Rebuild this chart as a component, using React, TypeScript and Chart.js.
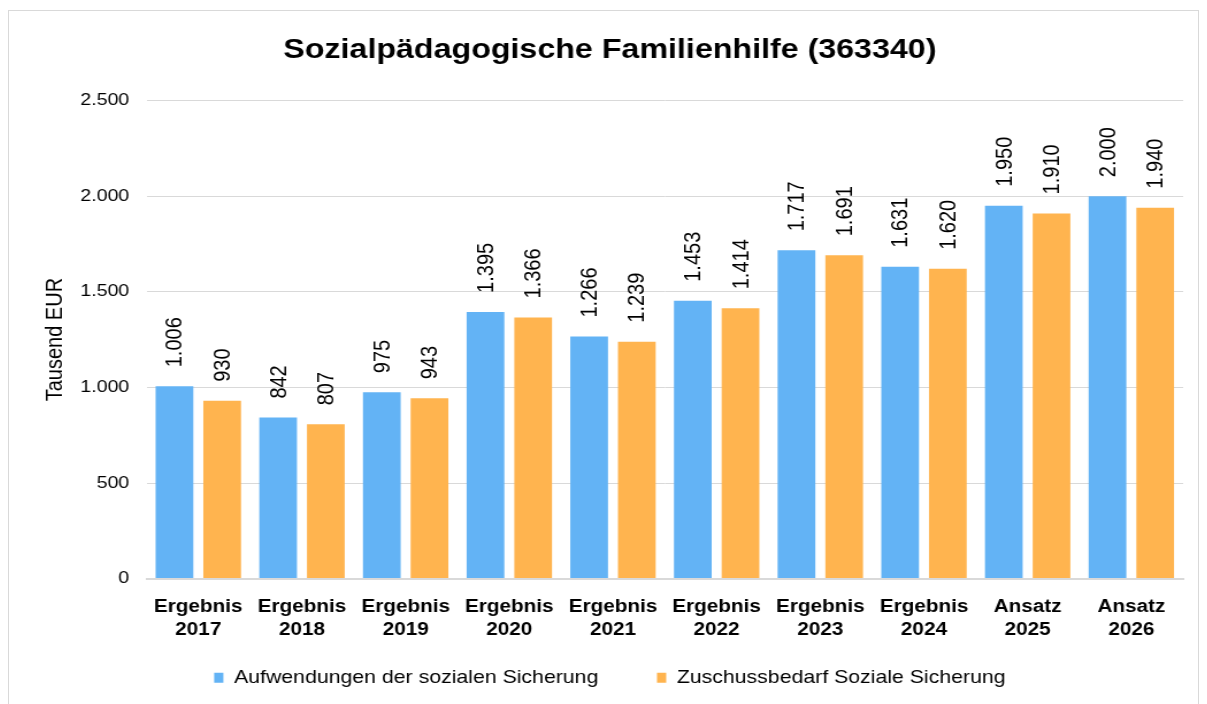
import React, { useEffect, useRef } from "react";
import { Chart, registerables } from "chart.js";

Chart.register(...registerables);

const categories: string[][] = [
  ["Ergebnis", "2017"],
  ["Ergebnis", "2018"],
  ["Ergebnis", "2019"],
  ["Ergebnis", "2020"],
  ["Ergebnis", "2021"],
  ["Ergebnis", "2022"],
  ["Ergebnis", "2023"],
  ["Ergebnis", "2024"],
  ["Ansatz", "2025"],
  ["Ansatz", "2026"],
];
const aufwendungen = [1006, 842, 975, 1395, 1266, 1453, 1717, 1631, 1950, 2000];
const zuschussbedarf = [930, 807, 943, 1366, 1239, 1414, 1691, 1620, 1910, 1940];
const seriesNames = ["Aufwendungen der sozialen Sicherung", "Zuschussbedarf Soziale Sicherung"];
const title = "Sozialpädagogische Familienhilfe (363340)";
const yTitle = "Tausend EUR";

const FONT = "'Liberation Sans', Arial, sans-serif";
const STRETCH = 1.15;
const LEGEND_SHRINK = 41;
const fmt = (v: number) => v.toLocaleString("de-DE");

const labelPlugin = {
  id: "rotLabels",
  beforeLayout(chart: any) {
    const lg = chart.legend;
    if (lg && !lg.__patched) {
      const origFit = lg.fit.bind(lg);
      lg.fit = function () {
        origFit();
        this.height = Math.max(0, this.height - LEGEND_SHRINK);
      };
      const origDraw = lg.draw.bind(lg);
      lg.draw = function (...args: any[]) {
        this.top -= LEGEND_SHRINK;
        origDraw(...args);
        this.top += LEGEND_SHRINK;
      };
      lg.__patched = true;
    }
  },
  afterDatasetsDraw(chart: any) {
    const ctx = chart.ctx;
    ctx.save();
    ctx.font = `20px ${FONT}`;
    ctx.fillStyle = "#000";
    ctx.textAlign = "left";
    ctx.textBaseline = "middle";
    chart.data.datasets.forEach((ds: any, i: number) => {
      const meta = chart.getDatasetMeta(i);
      meta.data.forEach((el: any, j: number) => {
        ctx.save();
        ctx.translate(el.x, el.y - 19);
        ctx.rotate(-Math.PI / 2);
        ctx.fillText(fmt(ds.data[j]), 0, 1);
        ctx.restore();
      });
    });
    ctx.restore();
  },
};

export default function App() {
  const ref = useRef<HTMLCanvasElement>(null);
  useEffect(() => {
    if (!ref.current) return;
    const chart = new Chart(ref.current, {
      type: "bar",
      data: {
        labels: categories,
        datasets: [
          {
            label: seriesNames[0],
            data: aufwendungen,
            backgroundColor: "#63B3F5",
            borderWidth: 0,
            categoryPercentage: 0.92,
            barPercentage: 0.79,
          },
          {
            label: seriesNames[1],
            data: zuschussbedarf,
            backgroundColor: "#FFB44F",
            borderWidth: 0,
            categoryPercentage: 0.92,
            barPercentage: 0.79,
          },
        ],
      },
      options: {
        animation: false,
        responsive: true,
        maintainAspectRatio: false,
        layout: { padding: { left: 24, right: 13, top: 22, bottom: 32 } },
        plugins: {
          title: {
            display: true,
            text: title,
            color: "#000",
            font: { family: FONT, size: 28, weight: "bold" },
            padding: { top: 0, bottom: 34 },
          },
          legend: {
            position: "bottom",
            labels: {
              color: "#000",
              font: { family: FONT, size: 18.5 },
              boxWidth: 8,
              boxHeight: 10,
              padding: 51,
            },
          },
          tooltip: { enabled: false },
        },
        scales: {
          x: {
            grid: { display: false, drawTicks: false },
            border: { color: "#d9d9d9", width: 2 },
            ticks: {
              color: "#000",
              font: { family: FONT, size: 18, weight: "bold", lineHeight: 1.33 },
              padding: 16,
              maxRotation: 0,
            },
          },
          y: {
            min: 0,
            max: 2500,
            grid: { color: "#d9d9d9", drawTicks: false },
            border: { display: false },
            ticks: {
              stepSize: 500,
              color: "#000",
              font: { family: FONT, size: 17 },
              padding: 15,
              callback: (v: any) => fmt(Number(v)),
            },
            title: {
              display: true,
              text: yTitle,
              color: "#000",
              font: { family: FONT, size: 20 },
              padding: { top: 4, bottom: 9 },
            },
            afterFit: (scale: any) => {
              scale.width -= 14;
            },
          },
        },
      },
      plugins: [labelPlugin],
    });
    return () => chart.destroy();
  }, []);
  const innerW = Math.round(1189 / STRETCH);
  return (
    <div
      style={{
        marginTop: 2,
        width: 1191,
        height: 720,
        border: "1px solid #d9d9d9",
        boxSizing: "border-box",
        background: "#fff",
        overflow: "hidden",
      }}
    >
      <div
        style={{
          width: innerW,
          height: 718,
          transform: `scaleX(${STRETCH})`,
          transformOrigin: "left top",
        }}
      >
        <canvas ref={ref} />
      </div>
    </div>
  );
}
